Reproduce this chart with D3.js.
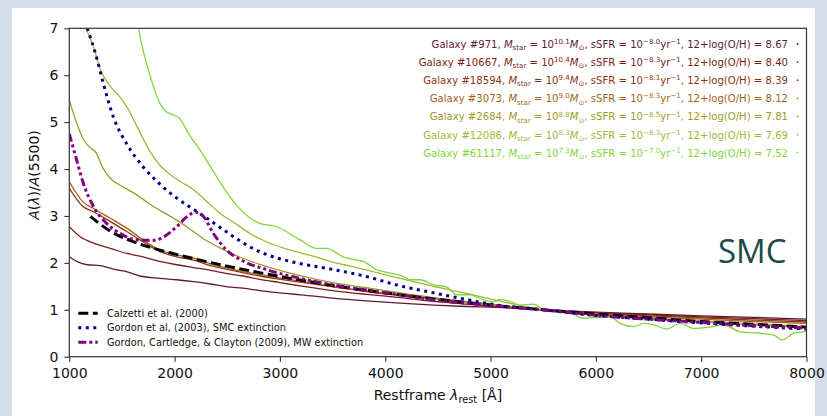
<!DOCTYPE html>
<html>
<head>
<meta charset="utf-8">
<script src="https://cdn.jsdelivr.net/npm/d3@7"></script>
<style>
body { margin: 0; background: #d5ddeb; overflow: hidden; }
svg { display: block; font-family: "DejaVu Sans", sans-serif; }
</style>
</head>
<body>
<script>
// curves: [wavelength in A, A(lambda)/A(5500)]
var calzetti = [[1200,2.99],[1400,2.66],[1600,2.46],[1800,2.31],[2000,2.19],[2200,2.08],[2500,1.93],[3000,1.71],[3500,1.52],[4000,1.36],[4500,1.22],[5000,1.10],[5500,1.0],[6000,0.91],[6500,0.83],[7000,0.75],[7500,0.69],[8000,0.63]];
var gordonSMC = [[1170,7.0],[1250,6.45],[1320,5.85],[1420,5.10],[1550,4.52],[1700,4.05],[1860,3.68],[2020,3.38],[2180,3.14],[2340,2.90],[2500,2.65],[2700,2.36],[2870,2.18],[3030,2.07],[3200,1.98],[3500,1.86],[3820,1.71],[4140,1.51],[4460,1.36],[4770,1.22],[5060,1.10],[5500,1.0],[6000,0.88],[6500,0.80],[7000,0.72],[7500,0.65],[8000,0.59]];
var gordonMW = [[1000,4.75],[1070,4.19],[1130,3.72],[1230,3.20],[1350,2.85],[1480,2.63],[1640,2.49],[1800,2.48],[1900,2.56],[2020,2.77],[2115,2.98],[2200,3.08],[2270,3.0],[2370,2.62],[2490,2.28],[2650,2.04],[2870,1.86],[3190,1.67],[3500,1.53],[3820,1.42],[4140,1.32],[4460,1.21],[4770,1.14],[5060,1.08],[5500,1.0],[6000,0.88],[6500,0.80],[7000,0.73],[7500,0.66],[8000,0.61]];

var gal971 = [[1000,2.13],[1080,2.02],[1170,1.96],[1290,1.94],[1450,1.85],[1550,1.81],[1670,1.72],[1860,1.67],[2020,1.64],[2180,1.60],[2340,1.55],[2500,1.49],[2650,1.46],[2810,1.41],[3000,1.36],[3200,1.32],[3500,1.25],[3820,1.19],[4140,1.14],[4460,1.10],[4770,1.07],[5060,1.05],[5500,1.0],[6000,0.95],[6500,0.91],[7000,0.87],[7500,0.84],[8000,0.80]];
var gal10667 = [[1000,2.77],[1100,2.56],[1230,2.42],[1390,2.31],[1545,2.20],[1700,2.13],[1860,2.03],[2020,1.96],[2180,1.90],[2340,1.84],[2500,1.77],[2650,1.72],[2810,1.65],[3000,1.58],[3190,1.51],[3500,1.41],[3820,1.33],[4140,1.26],[4460,1.18],[4770,1.12],[5060,1.07],[5500,1.0],[6000,0.94],[6500,0.89],[7000,0.85],[7500,0.81],[8000,0.77]];
var gal18594 = [[1000,3.59],[1130,3.20],[1230,3.09],[1390,2.88],[1545,2.67],[1700,2.45],[1860,2.24],[2020,2.13],[2180,2.06],[2340,1.94],[2500,1.86],[2810,1.72],[3190,1.59],[3500,1.49],[3820,1.39],[4140,1.31],[4460,1.24],[4770,1.17],[5060,1.10],[5500,1.0],[6000,0.93],[6500,0.87],[7000,0.83],[7500,0.78],[8000,0.74]];
var gal3073 = [[1000,3.73],[1130,3.30],[1230,3.16],[1390,2.95],[1545,2.74],[1700,2.49],[1860,2.27],[2020,2.17],[2180,2.10],[2340,1.98],[2500,1.89],[2810,1.75],[3190,1.61],[3500,1.50],[3820,1.40],[4140,1.32],[4460,1.25],[4770,1.17],[5060,1.10],[5500,1.0],[6000,0.92],[6500,0.85],[7000,0.80],[7500,0.75],[8000,0.71]];
var gal2684 = [[1000,5.47],[1070,4.98],[1130,4.65],[1200,4.45],[1250,4.36],[1320,4.02],[1420,3.74],[1480,3.66],[1640,3.45],[1800,3.20],[1960,2.99],[2115,2.77],[2270,2.52],[2430,2.32],[2620,2.12],[2810,1.97],[3000,1.84],[3190,1.73],[3500,1.58],[3820,1.47],[4140,1.36],[4460,1.26],[4770,1.18],[5060,1.10],[5500,1.0],[6000,0.90],[6500,0.82],[7000,0.76],[7500,0.70],[8000,0.64]];
var gal12086 = [[1110,7.2],[1230,6.61],[1290,6.15],[1390,5.76],[1480,5.54],[1545,5.33],[1640,4.92],[1770,4.36],[1860,4.08],[1960,3.88],[2050,3.74],[2180,3.56],[2300,3.32],[2430,3.06],[2590,2.82],[2720,2.62],[2870,2.45],[3030,2.32],[3190,2.22],[3350,2.12],[3510,2.01],[3670,1.93],[3820,1.85],[4140,1.67],[4460,1.50],[4770,1.35],[5060,1.20],[5500,1.0],[6000,0.88],[6500,0.80],[7000,0.74],[7500,0.68],[8000,0.62]];
var gal61117 = [[1640,7.2],[1700,6.54],[1770,5.97],[1860,5.40],[1920,5.22],[1960,5.18],[2050,5.07],[2150,4.69],[2240,4.41],[2340,4.05],[2460,3.62],[2590,3.22],[2720,2.95],[2810,2.84],[2970,2.77],[3190,2.49],[3350,2.31],[3440,2.31],[3600,2.13],[3730,2.06],[3790,2.03],[3920,1.85],[4050,1.78],[4140,1.74],[4240,1.64],[4330,1.64],[4460,1.53],[4580,1.49],[4680,1.32],[4810,1.32],[4930,1.21],[5030,1.17],[5090,1.22],[5180,1.18],[5280,1.10],[5410,1.12],[5500,1.0],[5600,0.96],[5720,0.97],[5880,0.82],[6040,0.84],[6135,0.85],[6230,0.71],[6360,0.64],[6450,0.71],[6550,0.68],[6670,0.59],[6800,0.71],[6930,0.60],[7080,0.63],[7210,0.68],[7370,0.53],[7560,0.50],[7690,0.46],[7770,0.36],[7880,0.50],[7970,0.53],[8000,0.55]];

// galaxy legend, top to bottom
var galaxyCurves = [gal971, gal10667, gal18594, gal3073, gal2684, gal12086, gal61117];
var galaxyIds = ["971", "10667", "18594", "3073", "2684", "12086", "61117"];
var logMass = ["10.1", "10.4", "9.4", "9.0", "8.8", "8.3", "7.3"];
var logSSFR = ["\u22128.0", "\u22128.3", "\u22128.1", "\u22128.3", "\u22128.5", "\u22128.3", "\u22127.0"];
var metallicity = ["8.67", "8.40", "8.39", "8.12", "7.81", "7,69", "7,52"];
var galaxyColors = ["#5e1a35", "#7b1d1d", "#8c3415", "#a3611c", "#9d9a26", "#9db83a", "#7fd63a"];

var refLabels = ["Calzetti et al. (2000)", "Gordon et al, (2003), SMC extinction", "Gordon, Cartledge, & Clayton (2009), MW extinction"];

var xTicks = [1000, 2000, 3000, 4000, 5000, 6000, 7000, 8000];
var yTicks = [0, 1, 2, 3, 4, 5, 6, 7];

var W = 827, H = 416;
var pL = 69.3, pR = 806.5, pT = 28.3, pB = 356.7;

var svg = d3.select("body").append("svg").attr("width", W).attr("height", H);

// white slide panel
svg.append("rect").attr("x", 12).attr("y", 8).attr("width", 803).attr("height", H - 8).attr("fill", "#fff");

var x = d3.scaleLinear().domain([1000, 8000]).range([pL, pR]);
var y = d3.scaleLinear().domain([0, 7]).range([pB, pT]);

svg.append("clipPath").attr("id", "plot")
    .append("rect").attr("x", pL).attr("y", pT).attr("width", pR - pL).attr("height", pB - pT);

var line = d3.line()
    .x(function (d) { return x(d[0]); })
    .y(function (d) { return y(d[1]); })
    .curve(d3.curveMonotoneX);

var plot = svg.append("g").attr("clip-path", "url(#plot)");

galaxyCurves.forEach(function (c, i) {
    plot.append("path").attr("d", line(c))
        .attr("fill", "none")
        .attr("stroke", galaxyColors[i])
        .attr("stroke-width", 1.3);
});

var refStyles = [
    { data: calzetti, color: "#000", dash: "10,4.5" },
    { data: gordonSMC, color: "#00008b", dash: "3,4.5" },
    { data: gordonMW, color: "#800080", dash: "8,3,3,3,3,3" }
];
refStyles.forEach(function (s) {
    plot.append("path").attr("d", line(s.data))
        .attr("fill", "none")
        .attr("stroke", s.color)
        .attr("stroke-width", 3)
        .attr("stroke-dasharray", s.dash);
});

// axes
var xAxis = svg.append("g").attr("transform", "translate(0," + pB + ")")
    .call(d3.axisBottom(x).tickValues(xTicks).tickSize(5).tickPadding(6.5).tickFormat(d3.format("d")));
var yAxis = svg.append("g").attr("transform", "translate(" + pL + ",0)")
    .call(d3.axisLeft(y).tickValues(yTicks).tickSize(5).tickPadding(6).tickFormat(d3.format("d")));
[xAxis, yAxis].forEach(function (a) {
    a.select(".domain").remove();
    a.selectAll("line").attr("stroke", "#333").attr("stroke-width", 1.1);
    a.selectAll("text").attr("font-family", "DejaVu Sans").attr("font-size", 14).attr("fill", "#111");
});

svg.append("rect").attr("x", pL).attr("y", pT).attr("width", pR - pL).attr("height", pB - pT)
    .attr("fill", "none").attr("stroke", "#333").attr("stroke-width", 1.2);

// rich text helper: parts are [text, kind] with kind n, i, sup, sub
function rich(sel, parts, size) {
    var shift = 0;
    parts.forEach(function (p) {
        var t = sel.append("tspan").text(p[0]);
        var want = 0;
        if (p[1] == "sup") { want = -0.38 * size; t.attr("font-size", size * 0.7); }
        if (p[1] == "sub") { want = 0.22 * size; t.attr("font-size", size * 0.7); }
        if (p[1] == "i") { t.attr("font-style", "italic"); }
        if (want != shift) { t.attr("dy", want - shift); shift = want; }
    });
}

// axis labels
var xl = svg.append("text").attr("x", (pL + pR) / 2).attr("y", 400)
    .attr("text-anchor", "middle").attr("font-size", 14).attr("fill", "#111");
rich(xl, [["Restframe ", "n"], ["\u03bb", "i"], ["rest", "sub"], [" [\u00c5]", "n"]], 14);

var yl = svg.append("text").attr("transform", "translate(39,175) rotate(-90)")
    .attr("text-anchor", "middle").attr("font-size", 14).attr("fill", "#111");
rich(yl, [["A", "i"], ["(", "n"], ["\u03bb", "i"], [")/", "n"], ["A", "i"], ["(5500)", "n"]], 14);

// galaxy legend top right
var fs = 10.1;
galaxyIds.forEach(function (id, i) {
    var ty = 48 + i * 18.1;
    var t = svg.append("text").attr("x", 788).attr("y", ty)
        .attr("text-anchor", "end").attr("font-size", fs).attr("fill", galaxyColors[i]);
    rich(t, [
        ["Galaxy #" + id + ", ", "n"], ["M", "i"], ["star", "sub"], [" = 10", "n"], [logMass[i], "sup"],
        ["M", "i"], ["\u2299", "sub"], [", sSFR = 10", "n"], [logSSFR[i], "sup"], ["yr", "n"], ["\u22121", "sup"],
        [", 12+log(O/H) = " + metallicity[i], "n"]
    ], fs);
    svg.append("circle").attr("cx", 797.5).attr("cy", ty - 4).attr("r", 0.9).attr("fill", galaxyColors[i]);
});

// reference legend bottom left
refStyles.forEach(function (s, i) {
    var ly = 313.3 + i * 14.5;
    svg.append("line").attr("x1", 78.3).attr("x2", 97.7).attr("y1", ly).attr("y2", ly)
        .attr("stroke", s.color).attr("stroke-width", 3).attr("stroke-dasharray", s.dash);
    svg.append("text").attr("x", 107).attr("y", ly + 3.5).attr("font-size", 9.8).attr("fill", "#111")
        .text(refLabels[i]);
});

svg.append("text").attr("x", 718).attr("y", 263).attr("font-family", "Open Sans")
    .attr("font-size", 33).attr("fill", "#1b4a4a").text("SMC");
</script>
</body>
</html>
